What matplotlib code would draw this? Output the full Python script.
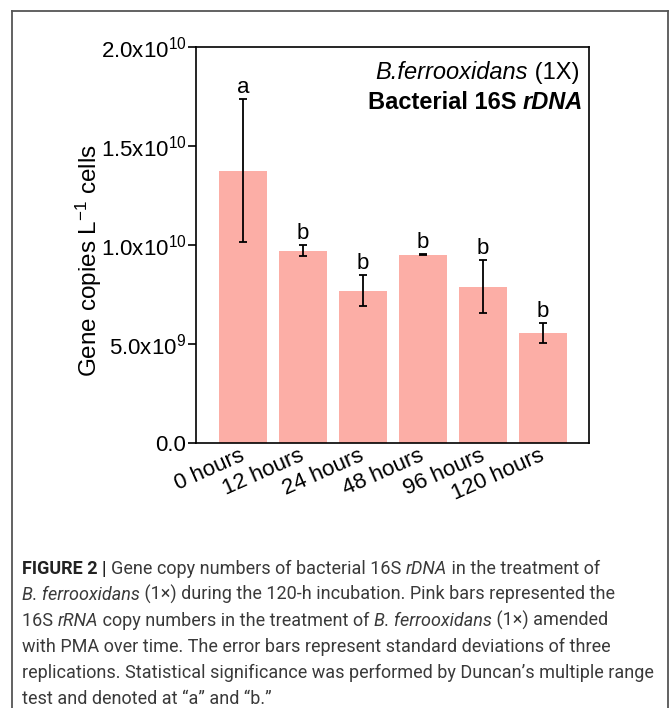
import matplotlib
matplotlib.use("Agg")
import matplotlib.pyplot as plt
from matplotlib import font_manager
from matplotlib.lines import Line2D

# data
categories = ["0 hours", "12 hours", "24 hours", "48 hours", "96 hours", "120 hours"]
gene_copies = [13.75e9, 9.70e9, 7.70e9, 9.50e9, 7.90e9, 5.55e9]
std_devs = [3.6e9, 0.28e9, 0.76e9, 0.03e9, 1.35e9, 0.52e9]
letters = ["a", "b", "b", "b", "b", "b"]
y_ticks = [0, 5e9, 1e10, 1.5e10, 2e10]
y_tick_labels = ["0.0", "5.0x10$^{9}$", "1.0x10$^{10}$", "1.5x10$^{10}$", "2.0x10$^{10}$"]

W, H = 670, 708
SANS = "Liberation Sans"
installed = {f.name for f in font_manager.fontManager.ttflist}
CAP_FONT = "Liberation Sans Narrow" if "Liberation Sans Narrow" in installed else "Roboto"

plt.rcParams["font.family"] = [SANS, "DejaVu Sans"]
plt.rcParams["mathtext.fontset"] = "custom"
plt.rcParams["mathtext.rm"] = SANS
plt.rcParams["mathtext.it"] = SANS + ":italic"
plt.rcParams["mathtext.bf"] = SANS + ":bold"

fig = plt.figure(figsize=(W / 100, H / 100), dpi=100)
renderer = fig.canvas.get_renderer()


def run_width(s, size, family, **kw):
    # width of a text run including spaces, measured between two x's
    t1 = fig.text(0, 0, "x" + s + "x", fontsize=size, family=family, **kw)
    t2 = fig.text(0, 0, "xx", fontsize=size, family=family, **kw)
    w = t1.get_window_extent(renderer).width - t2.get_window_extent(renderer).width
    t1.remove()
    t2.remove()
    return w


def place_runs(runs, x_px, y_px, size, family, align="left", color="black"):
    widths = [run_width(s, size, family, **kw) for s, kw in runs]
    x = x_px - sum(widths) if align == "right" else x_px
    for (s, kw), w in zip(runs, widths):
        kw = dict(kw)
        kw.setdefault("color", color)
        fig.text(x / W, 1 - y_px / H, s, fontsize=size, family=family,
                 ha="left", va="baseline", **kw)
        x += w


ax = fig.add_axes([196 / W, 1 - 443 / H, 393 / W, 396 / H])
xs = range(len(categories))
ax.bar(xs, gene_copies, width=0.8, color="#fcaea6", zorder=1)
ax.errorbar(xs, gene_copies, yerr=std_devs, fmt="none", ecolor="black",
            elinewidth=1.3, capsize=3, capthick=1.3, zorder=2)
for i, (m, e, lab) in enumerate(zip(gene_copies, std_devs, letters)):
    ax.annotate(lab, (i, m + e), xytext=(0, 4.5), textcoords="offset points",
                ha="center", va="baseline", fontsize=16)

ax.set_xlim(-0.783, 5.767)
ax.set_ylim(0, 2e10)
ax.set_yticks(y_ticks)
ax.set_yticklabels(y_tick_labels, fontsize=16)
ax.set_xticks(list(xs))
ax.set_xticklabels([])
ax.tick_params(axis="x", length=0)
# slanted category labels hung just below each bar
for i, cat in enumerate(categories):
    ax.annotate(cat, (i, 0), xycoords=("data", "axes fraction"),
                xytext=(-3, -1.5), textcoords="offset points", fontsize=16,
                rotation=24, ha="right", va="top", rotation_mode="anchor",
                annotation_clip=False)
ax.tick_params(axis="y", length=6, width=1.2, pad=1, direction="out")
for sp in ax.spines.values():
    sp.set_linewidth(1.2)
ax.set_ylabel("Gene copies L$^{-1}$ cells", fontsize=17.5)
ax.yaxis.set_label_coords((104 - 196) / 393, 0.46)

# legend-like text in the upper right
place_runs([("B.ferrooxidans", {"style": "italic"}), (" (1X)", {})],
           579, 79, 17, SANS, align="right")
place_runs([("Bacterial 16S ", {"weight": "bold"}),
            ("rDNA", {"weight": "bold", "style": "italic"})],
           583, 109, 17, SANS, align="right")

# outer frame
frame = dict(color="#555555", lw=1.3, transform=fig.transFigure)
fig.add_artist(Line2D([11.5 / W, 11.5 / W], [0, 1 - 10.5 / H], **frame))
fig.add_artist(Line2D([11.5 / W, 667.5 / W], [1 - 10.5 / H, 1 - 10.5 / H], **frame))
fig.add_artist(Line2D([667.5 / W, 667.5 / W], [0, 1 - 10.5 / H], **frame))

# caption
cap = "#3a3a3a"
it = {"style": "italic"}
caption_lines = [
    [("FIGURE 2 | ", {"weight": "bold", "color": "#222222"}),
     ("Gene copy numbers of bacterial 16S ", {}), ("rDNA", it),
     (" in the treatment of", {})],
    [("B. ferrooxidans", it),
     (" (1\u00d7) during the 120-h incubation. Pink bars represented the", {})],
    [("16S ", {}), ("rRNA", it), (" copy numbers in the treatment of ", {}),
     ("B. ferrooxidans", it), (" (1\u00d7) amended", {})],
    [("with PMA over time. The error bars represent standard deviations of three", {})],
    [("replications. Statistical significance was performed by Duncan\u2019s multiple range", {})],
    [("test and denoted at \u201ca\u201d and \u201cb.\u201d", {})],
]
for k, runs in enumerate(caption_lines):
    place_runs(runs, 22, 574 + 26 * k, 13, [CAP_FONT, "DejaVu Sans"], color=cap)

fig.savefig("out.png", dpi=100)
